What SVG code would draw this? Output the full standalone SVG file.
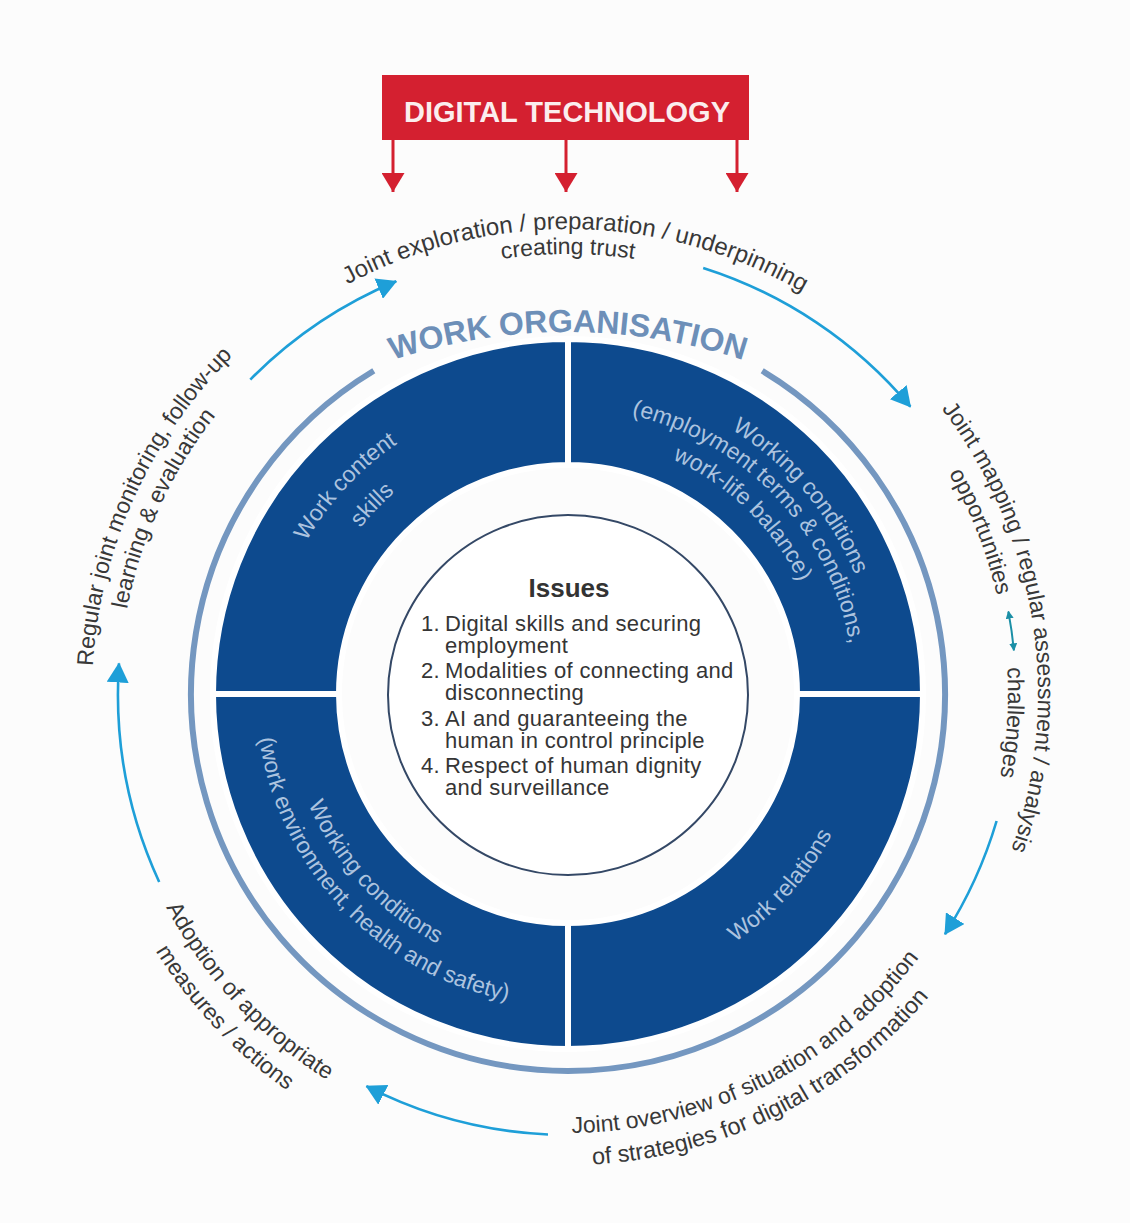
<svg xmlns="http://www.w3.org/2000/svg" width="1130" height="1223" viewBox="0 0 1130 1223">
<style>
.lbl{font-family:"Liberation Sans",Arial,Helvetica,sans-serif;font-size:23px;fill:#383838}
.q{font-family:"Liberation Sans",Arial,Helvetica,sans-serif;font-size:23px;fill:#acc3df}
.iss{font-family:"Liberation Sans",Arial,Helvetica,sans-serif;font-size:22px;letter-spacing:0.35px;fill:#353535}
.sector{fill:#0d4a8e;stroke:#ffffff;stroke-width:6}
.flow{fill:none;stroke:#1e9fd8;stroke-width:2.6}
.red{stroke:#d42030;stroke-width:3;fill:none}
</style>
<defs>
<marker id="ab" markerUnits="userSpaceOnUse" viewBox="0 0 20 22" refX="19" refY="11" markerWidth="20" markerHeight="22" orient="auto"><path d="M0 0 L20 11 L0 22 Z" fill="#1e9fd8"/></marker>
<marker id="ar" markerUnits="userSpaceOnUse" viewBox="0 0 19 23" refX="19" refY="11.5" markerWidth="19" markerHeight="23" orient="auto"><path d="M0 0 L19 11.5 L0 23 Z" fill="#d42030"/></marker>
<marker id="at" markerUnits="userSpaceOnUse" viewBox="0 0 8 8" refX="7" refY="4" markerWidth="8" markerHeight="8" orient="auto-start-reverse"><path d="M0 0 L8 4 L0 8 Z" fill="#1b8fa6"/></marker>
<path id="cw465" d="M 103 694 A 465 465 0 0 1 1033 694"/>
<path id="cw440t" d="M 128 694 A 440 440 0 0 1 1008 694"/>
<path id="cw470" d="M 98 694 A 470 470 0 0 1 1038 694"/>
<path id="cw440" d="M 128 694 A 440 440 0 0 1 1008 694"/>
<path id="cw476" d="M 92 694 A 476 476 0 0 1 1044 694"/>
<path id="cw449" d="M 119 694 A 449 449 0 0 1 1017 694"/>
<path id="ccw439" d="M 129 694 A 439 439 0 0 0 1007 694"/>
<path id="ccw471" d="M 97 694 A 471 471 0 0 0 1039 694"/>
<path id="ccw455" d="M 113 694 A 455 455 0 0 0 1023 694"/>
<path id="ccw486" d="M 82 694 A 486 486 0 0 0 1054 694"/>
<path id="cw303" d="M 265 694 A 303 303 0 0 1 871 694"/>
<path id="cw266" d="M 302 694 A 266 266 0 0 1 834 694"/>
<path id="cw311" d="M 257 694 A 311 311 0 0 1 879 694"/>
<path id="cw286" d="M 282 694 A 286 286 0 0 1 854 694"/>
<path id="cw257" d="M 311 694 A 257 257 0 0 1 825 694"/>
<path id="ccw299" d="M 269 694 A 299 299 0 0 0 867 694"/>
<path id="ccw282" d="M 286 694 A 282 282 0 0 0 850 694"/>
<path id="ccw312" d="M 256 694 A 312 312 0 0 0 880 694"/>
<path id="woarc" d="M 8 892 A 560 560 0 0 1 1128 892"/>
</defs>
<rect width="1130" height="1223" fill="#fcfcfc"/>

<g id="digital-technology">
<rect x="382" y="75" width="367" height="65" fill="#d42030"/>
<text x="567" y="122" text-anchor="middle" font-family="Liberation Sans, Arial, sans-serif" font-size="29" font-weight="bold" fill="#fbeeee">DIGITAL TECHNOLOGY</text>
</g>

<g id="work-organisation">
<path d="M 762.2 370.8 A 377 377 0 1 1 373.8 370.8" fill="none" stroke="#7497c0" stroke-width="6"/>
<text font-family="Liberation Sans, Arial, sans-serif" font-size="32" font-weight="bold" fill="#6d8fb8" text-anchor="middle"><textPath href="#woarc" startOffset="50%">WORK ORGANISATION</textPath></text>
</g>

<g id="q-work-content">
<path class="sector" d="M 213 694 A 355 355 0 0 1 568 339 L 568 465 A 229 229 0 0 0 339 694 Z"/>
<g transform="rotate(313 568 694)"><text class="q" text-anchor="middle"><textPath href="#cw303" startOffset="50%">Work content</textPath></text></g>
<g transform="rotate(314 568 694)"><text class="q" text-anchor="middle"><textPath href="#cw266" startOffset="50%">skills</textPath></text></g>
</g>

<g id="q-working-conditions-employment">
<path class="sector" d="M 568 339 A 355 355 0 0 1 923 694 L 797 694 A 229 229 0 0 0 568 465 Z"/>
<g transform="rotate(49.6 568 694)"><text class="q" text-anchor="middle"><textPath href="#cw311" startOffset="50%">Working conditions</textPath></text></g>
<g transform="rotate(46.4 568 694)"><text class="q" text-anchor="middle"><textPath href="#cw286" startOffset="50%">(employment terms &amp; conditions,</textPath></text></g>
<g transform="rotate(44.1 568 694)"><text class="q" text-anchor="middle"><textPath href="#cw257" startOffset="50%">work-life balance)</textPath></text></g>
</g>

<g id="q-work-relations">
<path class="sector" d="M 923 694 A 355 355 0 0 1 568 1049 L 568 923 A 229 229 0 0 0 797 694 Z"/>
<g transform="rotate(-48 568 694)"><text class="q" text-anchor="middle"><textPath href="#ccw299" startOffset="50%">Work relations</textPath></text></g>
</g>

<g id="q-working-conditions-environment">
<path class="sector" d="M 568 1049 A 355 355 0 0 1 213 694 L 339 694 A 229 229 0 0 0 568 923 Z"/>
<g transform="rotate(47.3 568 694)"><text class="q" text-anchor="middle"><textPath href="#ccw282" startOffset="50%">Working conditions</textPath></text></g>
<g transform="rotate(46.5 568 694)"><text class="q" text-anchor="middle"><textPath href="#ccw312" startOffset="50%">(work environment, health and safety)</textPath></text></g>
</g>

<g id="issues">
<circle cx="568" cy="695" r="180" fill="#ffffff" stroke="#344866" stroke-width="2"/>
<text x="569" y="597" text-anchor="middle" font-family="Liberation Sans, Arial, sans-serif" font-size="26" font-weight="bold" fill="#333">Issues</text>
<text class="iss" x="421" y="631">1.</text><text class="iss" x="445" y="631">Digital skills and securing</text>
<text class="iss" x="445" y="653">employment</text>
<text class="iss" x="421" y="678">2.</text><text class="iss" x="445" y="678">Modalities of connecting and</text>
<text class="iss" x="445" y="700">disconnecting</text>
<text class="iss" x="421" y="726">3.</text><text class="iss" x="445" y="726">AI and guaranteeing the</text>
<text class="iss" x="445" y="748">human in control principle</text>
<text class="iss" x="421" y="773">4.</text><text class="iss" x="445" y="773">Respect of human dignity</text>
<text class="iss" x="445" y="795">and surveillance</text>
</g>

<g id="stage-exploration">
<g transform="rotate(1 568 694)"><text class="lbl" font-size="24" style="font-size:24px" text-anchor="middle"><textPath href="#cw465" startOffset="50%">Joint exploration / preparation / underpinning</textPath></text></g>
<text class="lbl" text-anchor="middle"><textPath href="#cw440t" startOffset="50%">creating trust</textPath></text>
</g>

<g id="stage-mapping">
<g transform="rotate(81 568 694)"><text class="lbl" text-anchor="middle"><textPath href="#cw470" startOffset="50%">Joint mapping / regular assessment / analysis</textPath></text></g>
<g transform="rotate(68.5 568 694)"><text class="lbl" text-anchor="middle"><textPath href="#cw440" startOffset="50%">opportunities</textPath></text></g>
<g transform="rotate(93.7 568 694)"><text class="lbl" text-anchor="middle"><textPath href="#cw440" startOffset="50%">challenges</textPath></text></g>
<path d="M 1008.4 611.6 A 448 448 0 0 1 1013.9 650.3" fill="none" stroke="#1b8fa6" stroke-width="2" marker-start="url(#at)" marker-end="url(#at)"/>
</g>

<g id="stage-overview">
<g transform="rotate(-26.8 568 694)"><text class="lbl" text-anchor="middle"><textPath href="#ccw439" startOffset="50%">Joint overview of situation and adoption</textPath></text></g>
<g transform="rotate(-26.5 568 694)"><text class="lbl" style="font-size:23.5px" text-anchor="middle"><textPath href="#ccw471" startOffset="50%">of strategies for digital transformation</textPath></text></g>
</g>

<g id="stage-adoption">
<g transform="rotate(47 568 694)"><text class="lbl" text-anchor="middle"><textPath href="#ccw455" startOffset="50%">Adoption of appropriate</textPath></text></g>
<g transform="rotate(46.7 568 694)"><text class="lbl" text-anchor="middle"><textPath href="#ccw486" startOffset="50%">measures / actions</textPath></text></g>
</g>

<g id="stage-monitoring">
<g transform="rotate(294.3 568 694)"><text class="lbl" text-anchor="middle"><textPath href="#cw476" startOffset="50%">Regular joint monitoring, follow-up</textPath></text></g>
<g transform="rotate(294.6 568 694)"><text class="lbl" text-anchor="middle"><textPath href="#cw449" startOffset="50%">learning &amp; evaluation</textPath></text></g>
</g>

<g id="connectors">
<line class="red" x1="393" y1="140" x2="393" y2="192" marker-end="url(#ar)"/>
<line class="red" x1="566" y1="140" x2="566" y2="192" marker-end="url(#ar)"/>
<line class="red" x1="737" y1="140" x2="737" y2="192" marker-end="url(#ar)"/>
<path class="flow" d="M 250.3 379.6 A 447 447 0 0 1 396.2 281.3" marker-end="url(#ab)"/>
<path class="flow" d="M 703.2 267.9 A 447 447 0 0 1 910.4 406.7" marker-end="url(#ab)"/>
<path class="flow" d="M 996.6 821.0 A 447 447 0 0 1 945.0 934.2" marker-end="url(#ab)"/>
<path class="flow" d="M 548.0 1134.5 A 441 441 0 0 1 366.4 1086.2" marker-end="url(#ab)"/>
<path class="flow" d="M 159.2 882.0 A 450 450 0 0 1 119.0 663.4" marker-end="url(#ab)"/>
</g>
</svg>
